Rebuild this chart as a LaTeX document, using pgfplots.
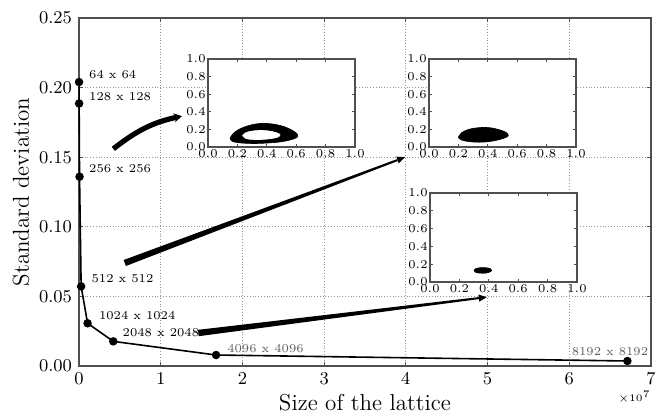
\documentclass[border=0pt]{standalone}
\usepackage{pgfplots}
\pgfplotsset{compat=1.18}
\usetikzlibrary{calc,arrows.meta}
\definecolor{framegray}{RGB}{80,80,80}
\definecolor{gridgray}{RGB}{150,150,150}
\definecolor{lblgray}{RGB}{95,95,95}

\pgfplotsset{
  inset/.style={
    scale only axis, width=73.5pt, height=44pt, anchor=south west,
    xmin=0, xmax=1, ymin=0, ymax=1,
    xtick={0,0.2,0.4,0.6,0.8,1}, ytick={0,0.2,0.4,0.6,0.8,1},
    xticklabel style={/pgf/number format/.cd,fixed,fixed zerofill,precision=1},
    yticklabel style={/pgf/number format/.cd,fixed,fixed zerofill,precision=1},
    tick label style={font=\fontsize{5.8}{6}\selectfont, inner sep=1pt},
    tick align=inside, major tick length=1.6pt,
    every tick/.style={framegray, line width=0.4pt},
    axis line style={framegray, line width=0.8pt},
    axis background/.style={fill=white},
  },
  blob/.style={fill=black, draw=black, line width=0.3pt, smooth, tension=0.6, mark=none},
}

\begin{document}
\begin{tikzpicture}
\begin{axis}[
  scale only axis, width=286pt, height=174pt, at={(0,0)}, anchor=south west,
  xmin=0, xmax=7e7, ymin=0, ymax=0.25,
  xtick={0,1e7,2e7,3e7,4e7,5e7,6e7,7e7},
  scaled x ticks=base 10:-7,
  xtick scale label code/.code={$\times 10^{7}$},
  every x tick scale label/.style={at={(xticklabel cs:1)}, anchor=north east, yshift=0.5pt, inner sep=0pt, font=\fontsize{5.5}{6}\selectfont},
  ytick={0,0.05,0.1,0.15,0.2,0.25},
  scaled y ticks=false,
  yticklabel style={/pgf/number format/.cd,fixed,fixed zerofill,precision=2},
  tick label style={font=\fontsize{8.8}{10}\selectfont},
  label style={font=\fontsize{11.5}{13}\selectfont},
  xlabel={Size of the lattice},
  ylabel={Standard deviation},
  xlabel style={yshift=2pt},
  ylabel style={yshift=-2pt},
  grid=major, grid style={densely dotted, gridgray, line width=0.5pt},
  tick align=inside, major tick length=2pt,
  every tick/.style={framegray, line width=0.4pt},
  axis line style={framegray, line width=1pt},
  clip=false,
]
\addplot[black, line width=0.8pt, mark=*, mark size=1.7pt] coordinates {
  (4096,0.204) (16384,0.1886) (65536,0.136) (262144,0.0572)
  (1048576,0.0307) (4194304,0.0177) (16777216,0.0079) (67108864,0.0036)
};

\begin{scope}[font=\fontsize{6}{7}\selectfont, inner sep=0pt]
\node[anchor=west] at (axis cs:1.2e6,0.209) {64 x 64};
\node[anchor=west] at (axis cs:1.2e6,0.1935) {128 x 128};
\node[anchor=west] at (axis cs:1.2e6,0.142) {256 x 256};
\node[anchor=west] at (axis cs:1.5e6,0.063) {512 x 512};
\node[anchor=west] at (axis cs:2.4e6,0.036) {1024 x 1024};
\node[anchor=west] at (axis cs:5.3e6,0.0237) {2048 x 2048};
\node[anchor=west, text=lblgray] at (axis cs:1.81e7,0.0128) {4096 x 4096};
\node[anchor=east, text=lblgray] at (axis cs:6.97e7,0.0105) {8192 x 8192};
\end{scope}

% arrows from the labels to the insets
\draw[black, line width=2.6pt, -{Stealth[length=4pt,width=4.5pt]}]
  (axis cs:0.42e7,0.156) to[out=38,in=192] (axis cs:1.26e7,0.1795);
\coordinate (As) at (axis cs:0.56e7,0.074);
\coordinate (Ae) at (axis cs:3.99e7,0.150);
\coordinate (An) at ($(Ae)!4pt!(As)$);
\fill[black] ($(As)!1.6pt!90:(Ae)$) -- ($(An)!0.5pt!90:(Ae)$) -- ($(An)!0.5pt!-90:(Ae)$) -- ($(As)!1.6pt!-90:(Ae)$) -- cycle;
\fill[black] ($(An)!1.8pt!90:(Ae)$) -- (Ae) -- ($(An)!1.8pt!-90:(Ae)$) -- cycle;
\coordinate (Bs) at (axis cs:1.46e7,0.0237);
\coordinate (Be) at (axis cs:4.99e7,0.0495);
\coordinate (Bn) at ($(Be)!4pt!(Bs)$);
\fill[black] ($(Bs)!1.6pt!90:(Be)$) -- ($(Bn)!0.5pt!90:(Be)$) -- ($(Bn)!0.5pt!-90:(Be)$) -- ($(Bs)!1.6pt!-90:(Be)$) -- cycle;
\fill[black] ($(Bn)!1.8pt!90:(Be)$) -- (Be) -- ($(Bn)!1.8pt!-90:(Be)$) -- cycle;
\end{axis}

% inset 1: ring
\begin{axis}[inset, at={(64.5pt,109.5pt)}]
\addplot[blob] coordinates {
  (0.15,0.10) (0.17,0.15) (0.21,0.20) (0.27,0.24) (0.34,0.265) (0.42,0.265)
  (0.49,0.245) (0.55,0.21) (0.60,0.16) (0.61,0.12) (0.58,0.09) (0.50,0.06)
  (0.40,0.045) (0.30,0.04) (0.20,0.05) (0.16,0.07) (0.15,0.10)
};
\addplot[blob, fill=white, draw=white] coordinates {
  (0.235,0.13) (0.26,0.165) (0.32,0.185) (0.40,0.185) (0.46,0.165) (0.49,0.14)
  (0.47,0.11) (0.40,0.09) (0.32,0.085) (0.26,0.095) (0.235,0.13)
};
\end{axis}

% inset 2: filled blob
\begin{axis}[inset, at={(175pt,109.5pt)}]
\addplot[blob] coordinates {
  (0.20,0.11) (0.22,0.16) (0.27,0.20) (0.34,0.22) (0.41,0.22) (0.47,0.20)
  (0.52,0.17) (0.54,0.13) (0.51,0.10) (0.44,0.07) (0.36,0.055) (0.28,0.06)
  (0.22,0.08) (0.20,0.11)
};
\end{axis}

% inset 3: small blob
\begin{axis}[inset, at={(175.5pt,42pt)}, height=44.5pt]
\addplot[blob] coordinates {
  (0.30,0.13) (0.31,0.15) (0.34,0.16) (0.38,0.16) (0.41,0.15) (0.42,0.13)
  (0.41,0.115) (0.38,0.10) (0.34,0.10) (0.31,0.11) (0.30,0.13)
};
\end{axis}

\pgfresetboundingbox
\path[use as bounding box] (-39.5pt,-24pt) rectangle (291.5pt,183pt);
\end{tikzpicture}
\end{document}
